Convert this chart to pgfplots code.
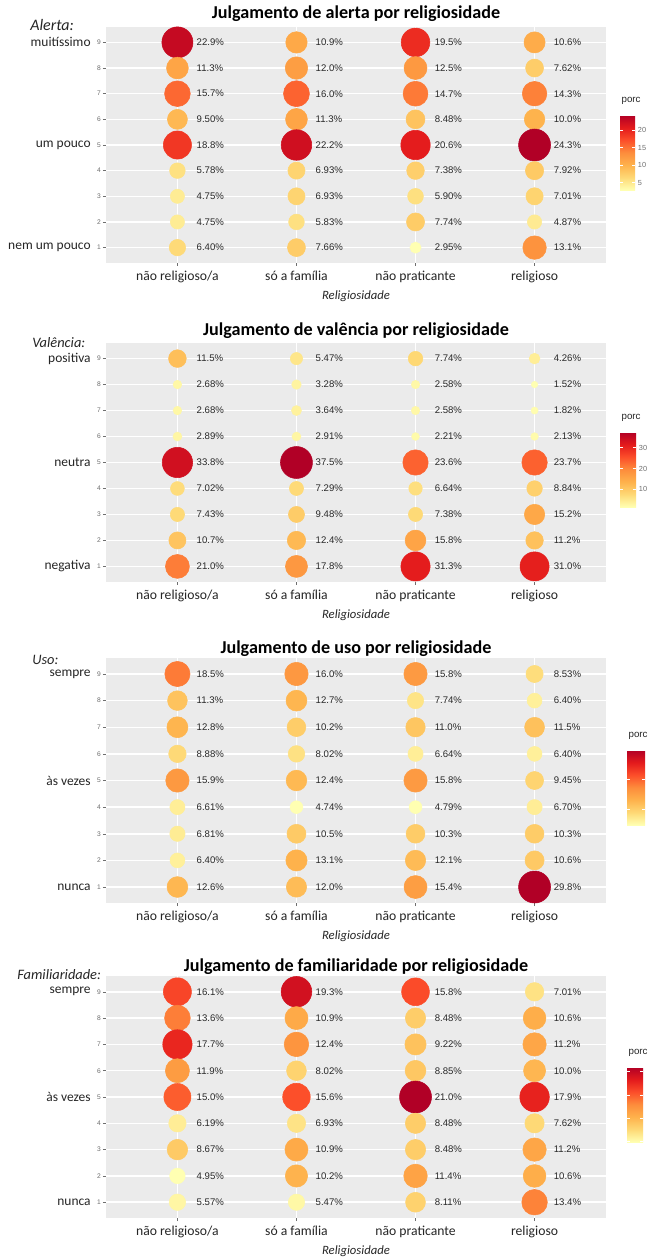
\documentclass[border=0pt]{standalone}
\usepackage{pgfplots}
\pgfplotsset{compat=1.18}
\usepackage{pgfplotstable}
\usepackage{fontspec}
\setmainfont{Carlito}
\newfontfamily\arial{Liberation Sans}
\definecolor{panelbg}{RGB}{235,235,235}
\definecolor{txt}{RGB}{38,38,38}
\definecolor{labtxt}{RGB}{40,40,40}
\definecolor{ticktxt}{RGB}{110,110,110}

\pgfplotstableread{
x y v
1 9 22.9
2 9 10.9
3 9 19.5
4 9 10.6
1 8 11.3
2 8 12.0
3 8 12.5
4 8 7.62
1 7 15.7
2 7 16.0
3 7 14.7
4 7 14.3
1 6 9.50
2 6 11.3
3 6 8.48
4 6 10.0
1 5 18.8
2 5 22.2
3 5 20.6
4 5 24.3
1 4 5.78
2 4 6.93
3 4 7.38
4 4 7.92
1 3 4.75
2 3 6.93
3 3 5.90
4 3 7.01
1 2 4.75
2 2 5.83
3 2 7.74
4 2 4.87
1 1 6.40
2 1 7.66
3 1 2.95
4 1 13.1
}\alerta

\pgfplotstableread{
x y v
1 9 11.5
2 9 5.47
3 9 7.74
4 9 4.26
1 8 2.68
2 8 3.28
3 8 2.58
4 8 1.52
1 7 2.68
2 7 3.64
3 7 2.58
4 7 1.82
1 6 2.89
2 6 2.91
3 6 2.21
4 6 2.13
1 5 33.8
2 5 37.5
3 5 23.6
4 5 23.7
1 4 7.02
2 4 7.29
3 4 6.64
4 4 8.84
1 3 7.43
2 3 9.48
3 3 7.38
4 3 15.2
1 2 10.7
2 2 12.4
3 2 15.8
4 2 11.2
1 1 21.0
2 1 17.8
3 1 31.3
4 1 31.0
}\valencia

\pgfplotstableread{
x y v
1 9 18.5
2 9 16.0
3 9 15.8
4 9 8.53
1 8 11.3
2 8 12.7
3 8 7.74
4 8 6.40
1 7 12.8
2 7 10.2
3 7 11.0
4 7 11.5
1 6 8.88
2 6 8.02
3 6 6.64
4 6 6.40
1 5 15.9
2 5 12.4
3 5 15.8
4 5 9.45
1 4 6.61
2 4 4.74
3 4 4.79
4 4 6.70
1 3 6.81
2 3 10.5
3 3 10.3
4 3 10.3
1 2 6.40
2 2 13.1
3 2 12.1
4 2 10.6
1 1 12.6
2 1 12.0
3 1 15.4
4 1 29.8
}\uso

\pgfplotstableread{
x y v
1 9 16.1
2 9 19.3
3 9 15.8
4 9 7.01
1 8 13.6
2 8 10.9
3 8 8.48
4 8 10.6
1 7 17.7
2 7 12.4
3 7 9.22
4 7 11.2
1 6 11.9
2 6 8.02
3 6 8.85
4 6 10.0
1 5 15.0
2 5 15.6
3 5 21.0
4 5 17.9
1 4 6.19
2 4 6.93
3 4 8.48
4 4 7.62
1 3 8.67
2 3 10.9
3 3 8.48
4 3 11.2
1 2 4.95
2 2 10.2
3 2 11.4
4 2 10.6
1 1 5.57
2 1 5.47
3 1 8.11
4 1 13.4
}\familiaridade

\tikzset{
  catlab/.style={anchor=east, xshift=-8pt, font=\fontsize{10.1}{12}\selectfont, text=txt},
  heading/.style={anchor=west, font=\itshape\fontsize{10.8}{12}\selectfont, text=txt, inner sep=0pt},
}

\pgfplotsset{
  colormap={ylorrd}{rgb255=(255,255,178) rgb255=(254,217,118) rgb255=(254,178,76) rgb255=(253,141,60) rgb255=(252,78,42) rgb255=(227,26,28) rgb255=(177,0,38)},
  bubblepanel/.style={
    scale only axis, width=375pt,
    xmin=0.4, xmax=4.6, ymin=0.4, ymax=9.6,
    xtick={1,2,3,4},
    xticklabels={não religioso/a, só a família, não praticante, religioso},
    ytick={1,...,9},
    /pgf/number format/assume math mode=true,
    tick pos=left, tick align=outside, major tick length=2.25pt,
    tick style={draw=ticktxt, line width=0.4pt},
    axis line style={draw=none},
    axis background/.style={fill=panelbg},
    grid=major, major grid style={white, line width=1.1pt},
    xticklabel style={font=\fontsize{10.25}{12}\selectfont, text=txt},
    yticklabel style={font=\arial\fontsize{5}{6}\selectfont, text=ticktxt, inner sep=1.5pt},
    xlabel={Religiosidade},
    xlabel style={font=\itshape\fontsize{9.5}{11}\selectfont, text=txt,
      at={(axis description cs:0.5,0)}, anchor=center, yshift=-24.75pt},
    every axis title shift=0pt,
    title style={font=\bfseries\fontsize{13.6}{16}\selectfont, text=black,
      at={(axis description cs:0.5,1)}, anchor=base},
    clip=false,
    colormap name=ylorrd,
    colorbar,
    colorbar style={
      at={(parent axis.north east)}, anchor=north west,
      scale only axis, width=11.25pt, height=56.25pt,
      axis line style={draw=none}, grid=none,
      tick align=inside, major tick length=2.5pt,
      ytick style={draw=white, line width=0.6pt},
      yticklabel pos=right,
      yticklabel style={font=\arial\fontsize{5.5}{6}\selectfont, text=ticktxt, inner sep=2pt},
      /pgf/number format/assume math mode=true,
      title={porc},
      title style={at={(axis description cs:0,1)}, anchor=south west,
        font=\arial\fontsize{7.3}{8}\selectfont, text=txt, inner sep=1pt, yshift=1pt},
    },
  },
  % bubble area proportional to the value: diameter 32px at the panel maximum
  bubbles/.style 2 args={
    scatter, only marks, mark=*,
    point meta=explicit,
    scatter/use mapped color={draw=mapped color, fill=mapped color},
    scatter/@pre marker code/.append style={/tikz/mark size={12*sqrt((#1+\pgfplotspointmetatransformed/1000*(#2-#1))/#2)}},
  },
  pctlabels/.style={
    only marks, mark=none,
    point meta=explicit symbolic,
    nodes near coords={\pgfplotspointmeta\%},
    every node near coord/.append style={anchor=west, xshift=14.25pt,
      font=\arial\fontsize{7.2}{8}\selectfont, text=labtxt, inner sep=0pt},
  },
}

\begin{document}
\begin{tikzpicture}
\useasboundingbox (0,0) rectangle (485.25pt,-943.5pt);
\fill[white] (0,0) rectangle (485.25pt,-943.5pt);

% Panel 1
\begin{axis}[bubblepanel, at={(79.5pt,-20.25pt)}, anchor=north west, height=177pt,
  title={Julgamento de alerta por religiosidade}, title style={yshift=6.75pt},
  colorbar shift/.style={xshift=10.5pt, yshift=-66pt},
  colorbar style={ytick={5,10,15,20}}]
\addplot[bubbles={2.95}{24.3}] table[meta=v] {\alerta};
\addplot[pctlabels] table[meta=v] {\alerta};
\node[catlab] at (axis cs:0.4,9) {muitíssimo};
\node[catlab] at (axis cs:0.4,5) {um pouco};
\node[catlab] at (axis cs:0.4,1) {nem um pouco};
\end{axis}
\node[heading, font=\itshape\fontsize{12}{13}\selectfont] at (22.5pt,-18.75pt) {Alerta:};

% Panel 2
\begin{axis}[bubblepanel, at={(79.5pt,-257.25pt)}, anchor=north west, height=179.25pt,
  title={Julgamento de valência por religiosidade}, title style={yshift=6pt},
  colorbar shift/.style={xshift=10.5pt, yshift=-66.75pt},
  colorbar style={ytick={10,20,30}, width=12pt}]
\addplot[bubbles={1.52}{37.5}] table[meta=v] {\valencia};
\addplot[pctlabels] table[meta=v] {\valencia};
\node[catlab] at (axis cs:0.4,9) {positiva};
\node[catlab] at (axis cs:0.4,5) {neutra};
\node[catlab] at (axis cs:0.4,1) {negativa};
\end{axis}
\node[heading] at (24pt,-257.25pt) {Valência:};

% Panel 3
\begin{axis}[bubblepanel, at={(79.5pt,-493.5pt)}, anchor=north west, height=183.75pt,
  title={Julgamento de uso por religiosidade}, title style={yshift=3.5pt},
  colorbar shift/.style={xshift=15.75pt, yshift=-69pt},
  colorbar style={ytick={10,20}, yticklabels={}, width=13.5pt}]
\addplot[bubbles={4.74}{29.8}] table[meta=v] {\uso};
\addplot[pctlabels] table[meta=v] {\uso};
\node[catlab] at (axis cs:0.4,9) {sempre};
\node[catlab] at (axis cs:0.4,5) {às vezes};
\node[catlab] at (axis cs:0.4,1) {nunca};
\end{axis}
\node[heading] at (24pt,-495pt) {Uso:};

% Panel 4
\begin{axis}[bubblepanel, at={(79.5pt,-732pt)}, anchor=north west, height=181.5pt,
  title={Julgamento de familiaridade por religiosidade}, title style={yshift=3.5pt},
  colorbar shift/.style={xshift=15.75pt, yshift=-68.25pt},
  colorbar style={ytick={5,10,15,20}, yticklabels={}, width=12pt}]
\addplot[bubbles={4.95}{21.0}] table[meta=v] {\familiaridade};
\addplot[pctlabels] table[meta=v] {\familiaridade};
\node[catlab] at (axis cs:0.4,9) {sempre};
\node[catlab] at (axis cs:0.4,5) {às vezes};
\node[catlab] at (axis cs:0.4,1) {nunca};
\end{axis}
\node[heading] at (12.75pt,-731.25pt) {Familiaridade:};
\end{tikzpicture}
\end{document}
